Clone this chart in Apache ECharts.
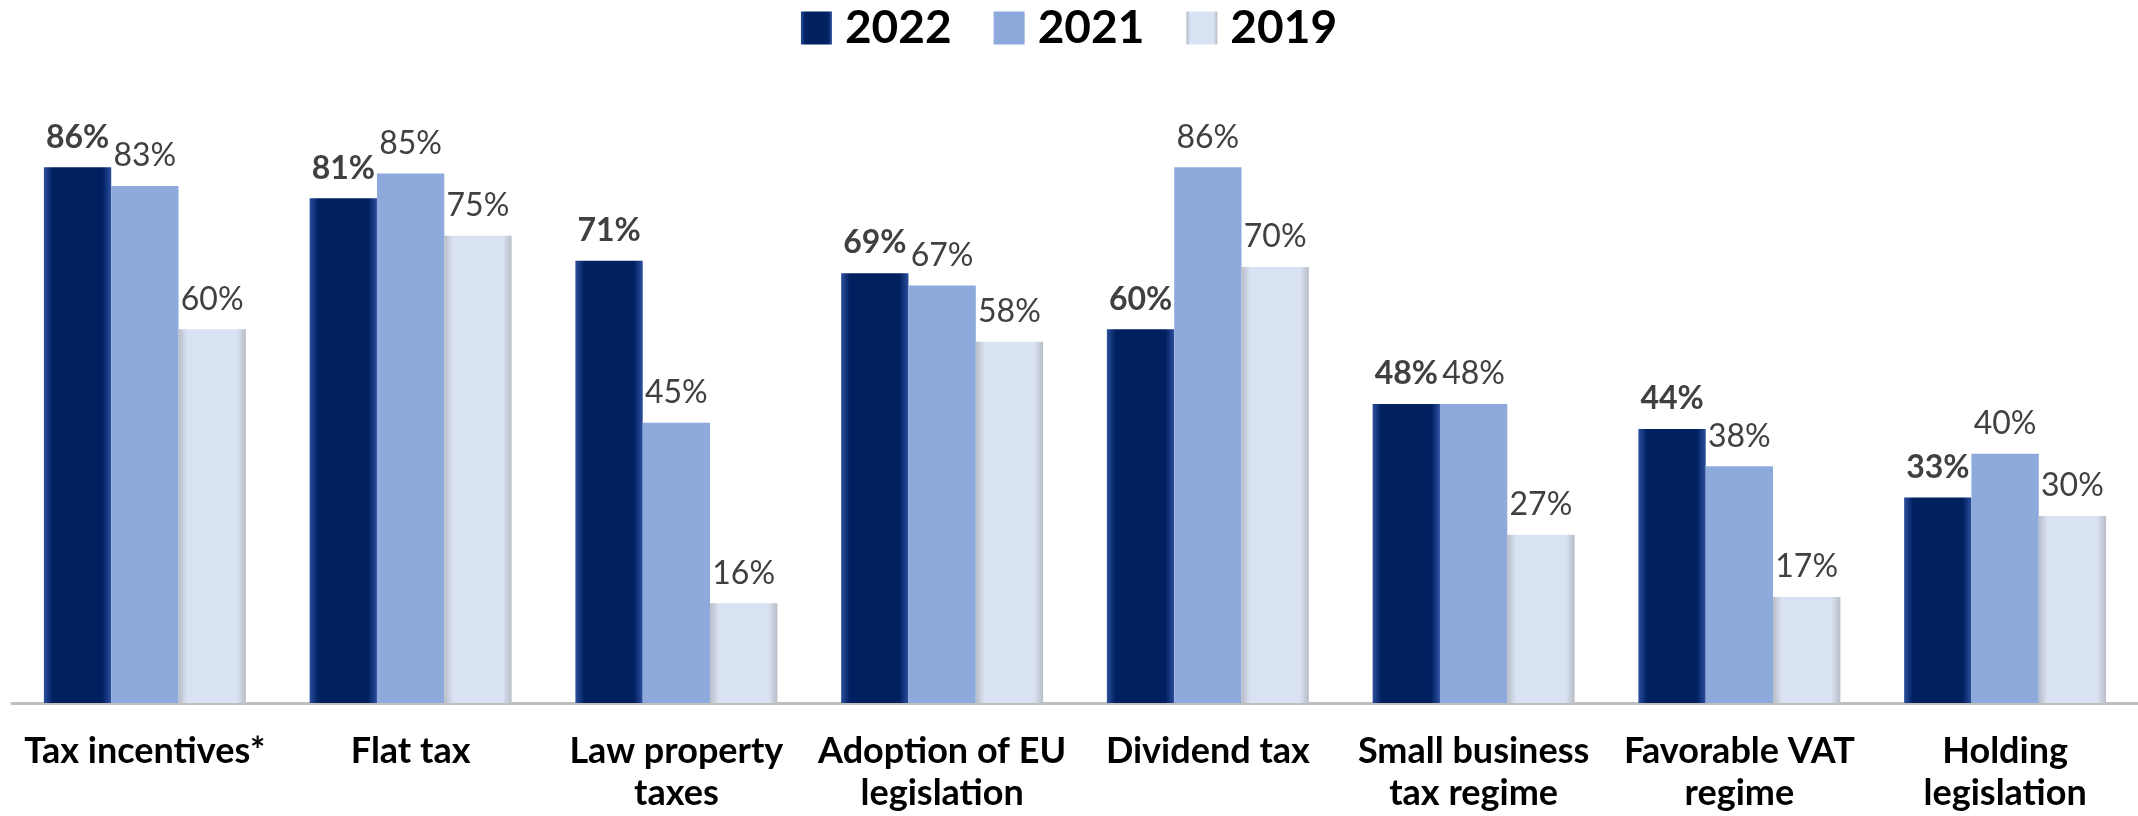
<!DOCTYPE html>
<html>
<head>
<meta charset="utf-8">
<script src="https://cdn.jsdelivr.net/npm/echarts@6/dist/echarts.min.js"></script>
<style>
  html, body { margin: 0; padding: 0; background: #fff; }
  #chart { width: 2138px; height: 816px; }
</style>
</head>
<body>
<div id="chart"></div>
<script>
// categories and values (percent)
var categories = [
  "Tax incentives*",
  "Flat tax",
  "Law property\ntaxes",
  "Adoption of EU\nlegislation",
  "Dividend tax",
  "Small business\ntax regime",
  "Favorable VAT\nregime",
  "Holding\nlegislation"
];
var years = ["2022", "2021", "2019"];
var data2022 = [86, 81, 71, 69, 60, 48, 44, 33];
var data2021 = [83, 85, 45, 67, 86, 48, 38, 40];
var data2019 = [60, 75, 16, 58, 70, 27, 17, 30];

function edgeGradient(edge, mid) {
  return new echarts.graphic.LinearGradient(0, 0, 1, 0, [
    { offset: 0, color: edge },
    { offset: 0.13, color: mid },
    { offset: 0.87, color: mid },
    { offset: 1, color: edge }
  ]);
}

function makeSeries(name, data, color, bold) {
  return {
    name: name,
    type: "bar",
    barGap: "0%",
    barCategoryGap: "24%",
    itemStyle: { color: color },
    label: {
      show: true,
      position: "top",
      distance: 14,
      color: "#404040",
      fontFamily: "Lato",
      fontSize: 32,
      fontWeight: bold ? "bold" : "normal",
      formatter: function (p) { return p.value + "%"; }
    },
    data: data
  };
}

var myChart = echarts.init(document.getElementById("chart"));
myChart.setOption({
  backgroundColor: "#fff",
  animation: false,
  legend: {
    top: 0,
    left: "center",
    icon: "rect",
    itemWidth: 31,
    itemHeight: 33,
    itemGap: 42,
    textStyle: {
      color: "#000",
      fontFamily: "Lato",
      fontWeight: "bold",
      fontSize: 46,
      padding: [0, 0, 0, 8]
    },
    data: years
  },
  grid: { left: 12, right: 0, top: 80, bottom: 113 },
  xAxis: {
    type: "category",
    data: categories,
    axisLine: { lineStyle: { color: "#bfbfbf", width: 3 } },
    axisTick: { show: false },
    axisLabel: {
      interval: 0,
      margin: 27,
      color: "#000",
      fontFamily: "Lato",
      fontWeight: "bold",
      fontSize: 36,
      lineHeight: 42
    }
  },
  yAxis: {
    type: "value",
    min: 0,
    max: 100,
    show: false,
    splitLine: { show: false }
  },
  series: [
    makeSeries("2022", data2022, edgeGradient("#2c4f9e", "#002060"), true),
    makeSeries("2021", data2021, "#8eaadc", false),
    makeSeries("2019", data2019, edgeGradient("#b8bdc6", "#d9e2f3"), false)
  ]
});
</script>
</body>
</html>
